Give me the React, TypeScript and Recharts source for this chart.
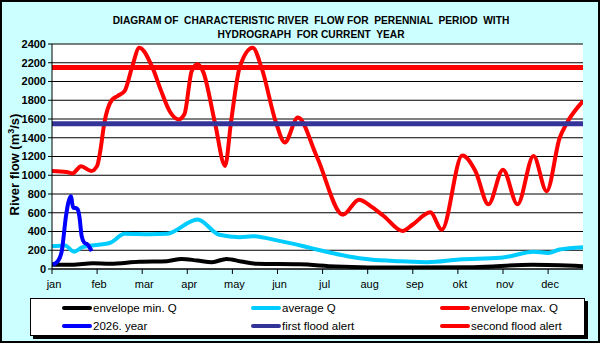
import React from 'react';
import { LineChart, Line, XAxis, YAxis, CartesianGrid } from 'recharts';

// day of year -> river flow (m3/s)
const envelopeMin = [
  { d: 0, q: 45 }, { d: 14, q: 45 }, { d: 28, q: 62 }, { d: 40, q: 55 }, { d: 60, q: 77 },
  { d: 79, q: 83 }, { d: 89, q: 108 }, { d: 100, q: 90 }, { d: 110, q: 73 }, { d: 120, q: 108 },
  { d: 130, q: 80 }, { d: 141, q: 55 }, { d: 170, q: 50 }, { d: 195, q: 28 }, { d: 240, q: 15 },
  { d: 290, q: 20 }, { d: 330, q: 45 }, { d: 365, q: 30 },
];

const averageQ = [
  { d: 0, q: 243 }, { d: 9, q: 252 }, { d: 15, q: 185 }, { d: 21, q: 233 }, { d: 40, q: 280 },
  { d: 50, q: 375 }, { d: 67, q: 370 }, { d: 79, q: 375 }, { d: 100, q: 528 }, { d: 115, q: 365 },
  { d: 129, q: 340 }, { d: 138, q: 350 }, { d: 157, q: 297 }, { d: 173, q: 243 }, { d: 182, q: 208 },
  { d: 203, q: 137 }, { d: 219, q: 101 }, { d: 240, q: 83 }, { d: 258, q: 73 }, { d: 280, q: 101 },
  { d: 308, q: 119 }, { d: 315, q: 137 }, { d: 331, q: 183 }, { d: 341, q: 172 }, { d: 349, q: 208 },
  { d: 365, q: 233 },
];

const envelopeMax = [
  { d: 0, q: 1045 }, { d: 10, q: 1035 }, { d: 14, q: 1020 }, { d: 20, q: 1095 }, { d: 27, q: 1045 },
  { d: 31, q: 1100 }, { d: 33, q: 1240 }, { d: 36, q: 1560 }, { d: 41, q: 1800 }, { d: 45, q: 1845 },
  { d: 50, q: 1900 }, { d: 55, q: 2150 }, { d: 60, q: 2360 }, { d: 69, q: 2150 }, { d: 75, q: 1900 },
  { d: 81, q: 1680 }, { d: 87, q: 1595 }, { d: 91, q: 1650 }, { d: 96, q: 2110 }, { d: 100, q: 2185 },
  { d: 104, q: 2100 }, { d: 112, q: 1560 }, { d: 119, q: 1100 }, { d: 123, q: 1560 }, { d: 129, q: 2150 },
  { d: 138, q: 2360 }, { d: 144, q: 2150 }, { d: 154, q: 1560 }, { d: 160, q: 1350 }, { d: 169, q: 1615 },
  { d: 182, q: 1200 }, { d: 200, q: 580 }, { d: 211, q: 740 }, { d: 220, q: 660 }, { d: 228, q: 565 },
  { d: 241, q: 405 }, { d: 248, q: 475 }, { d: 260, q: 605 }, { d: 268, q: 420 }, { d: 282, q: 1210 },
  { d: 291, q: 1045 }, { d: 300, q: 690 }, { d: 310, q: 1060 }, { d: 320, q: 690 }, { d: 331, q: 1205 },
  { d: 340, q: 830 }, { d: 349, q: 1400 }, { d: 354, q: 1560 }, { d: 365, q: 1790 },
];

const year2026 = [
  { d: 0.5, q: 48 }, { d: 4, q: 83 }, { d: 6.7, q: 190 }, { d: 9.6, q: 563 }, { d: 11.2, q: 706 },
  { d: 12.9, q: 777 }, { d: 14.6, q: 653 }, { d: 16.2, q: 650 }, { d: 17.7, q: 635 }, { d: 18.8, q: 563 },
  { d: 20.4, q: 350 }, { d: 22.2, q: 280 }, { d: 24.5, q: 261 }, { d: 27.3, q: 190 },
];

const firstFloodAlert = [{ d: 0, q: 1550 }, { d: 365, q: 1550 }];
const secondFloodAlert = [{ d: 0, q: 2150 }, { d: 365, q: 2150 }];

const monthTicks = [0, 31, 62, 93, 124, 155, 186, 217, 248, 279, 310, 341];
const monthLabels = ['jan', 'feb', 'mar', 'apr', 'may', 'jun', 'jul', 'aug', 'sep', 'okt', 'nov', 'dec'];
const yTicks = [0, 200, 400, 600, 800, 1000, 1200, 1400, 1600, 1800, 2000, 2200, 2400];

const series = [
  { name: 'envelope min. Q', data: envelopeMin, color: '#000000', width: 4, type: 'monotone' },
  { name: 'average Q', data: averageQ, color: '#00CCFF', width: 4, type: 'monotone' },
  { name: 'envelope max. Q', data: envelopeMax, color: '#FF0000', width: 4, type: 'monotone' },
  { name: '2026. year', data: year2026, color: '#0000FF', width: 4, type: 'monotone' },
  { name: 'first flood alert', data: firstFloodAlert, color: '#333399', width: 5, type: 'linear' },
  { name: 'second flood alert', data: secondFloodAlert, color: '#FF0000', width: 5, type: 'linear' },
];

const FONT = "'Liberation Sans', Arial, sans-serif";

const YLabel = (props: any) => {
  const vb = props.viewBox || { x: 0, y: 44, width: 52, height: 225 };
  const cx = vb.x + 19;
  const cy = vb.y + vb.height / 2 + 8;
  return (
    <text
      x={cx}
      y={cy}
      transform={`rotate(-90 ${cx} ${cy})`}
      textAnchor="middle"
      fontFamily={FONT}
      fontWeight="bold"
      fontSize={13}
      fill="#000"
    >
      River flow (m
      <tspan fontSize={9} dy={-5}>3</tspan>
      <tspan dy={5}>/s)</tspan>
    </text>
  );
};

export default function App() {
  return (
    <div
      style={{
        position: 'relative',
        width: 600,
        height: 343,
        background: '#ccffff',
        fontFamily: FONT,
        overflow: 'hidden',
      }}
    >
      <style>{'body{margin:0}'}</style>
      <div
        style={{
          position: 'absolute',
          left: 0,
          top: 14,
          width: 622,
          textAlign: 'center',
          fontWeight: 'bold',
          fontSize: 10.2,
          lineHeight: '14px',
          whiteSpace: 'pre',
          color: '#000',
        }}
      >
        {'DIAGRAM OF  CHARACTERISTIC RIVER  FLOW FOR  PERENNIAL  PERIOD  WITH\nHYDROGRAPH  FOR CURRENT  YEAR'}
      </div>
      <div style={{ position: 'absolute', left: 0, top: 0 }}>
        <LineChart width={600} height={343} margin={{ top: 44, right: 17, bottom: 44, left: 0 }}>
          <CartesianGrid vertical={false} stroke="#000" strokeOpacity={1} fill="#ffffff" fillOpacity={1} />
          <XAxis
            dataKey="d"
            type="number"
            domain={[0, 365]}
            ticks={monthTicks}
            tickFormatter={(v: number) => monthLabels[monthTicks.indexOf(v)] || ''}
            height={30}
            axisLine={{ stroke: '#000' }}
            tickLine={{ stroke: '#000' }}
            tickSize={5}
            tickMargin={6}
            tick={{ fill: '#000', fontSize: 11, fontFamily: FONT, dx: 2 }}
            allowDataOverflow
          />
          <YAxis
            dataKey="q"
            type="number"
            domain={[0, 2400]}
            ticks={yTicks}
            width={52}
            axisLine={{ stroke: '#000' }}
            tickLine={{ stroke: '#000' }}
            tickSize={4}
            tickMargin={2}
            tick={{ fill: '#000', fontSize: 11, fontWeight: 'bold', fontFamily: FONT }}
            interval={0}
            label={<YLabel />}
            allowDataOverflow
          />
          <YAxis
            yAxisId="r"
            orientation="right"
            width={0}
            tick={false}
            tickLine={false}
            axisLine={{ stroke: '#000' }}
            domain={[0, 2400]}
          />
          {series.map((s) => (
            <Line
              key={s.name}
              name={s.name}
              data={s.data}
              dataKey="q"
              type={s.type as any}
              stroke={s.color}
              strokeWidth={s.width}
              dot={false}
              activeDot={false}
              isAnimationActive={false}
            />
          ))}
        </LineChart>
      </div>
      <div
        style={{
          position: 'absolute',
          left: 30,
          top: 298,
          width: 553,
          height: 36,
          background: '#fff',
          border: '1px solid #000',
          boxShadow: '3px 3px 0 #000',
        }}
      >
        {series.map((s, i) => {
          const col = i % 3;
          const row = Math.floor(i / 3);
          const left = [31, 220, 409][col];
          const top = row * 18;
          return (
            <div
              key={s.name}
              style={{ position: 'absolute', left, top, height: 18, display: 'flex', alignItems: 'center' }}
            >
              <div style={{ width: 30, height: 4, background: s.color, borderRadius: 2 }} />
              <span style={{ fontSize: 11.5, color: '#000', marginLeft: 1, whiteSpace: 'nowrap' }}>{s.name}</span>
            </div>
          );
        })}
      </div>
      <div
        style={{
          position: 'absolute',
          left: 0,
          top: 0,
          width: 600,
          height: 343,
          boxSizing: 'border-box',
          border: '2px solid #000',
          pointerEvents: 'none',
        }}
      />
    </div>
  );
}
